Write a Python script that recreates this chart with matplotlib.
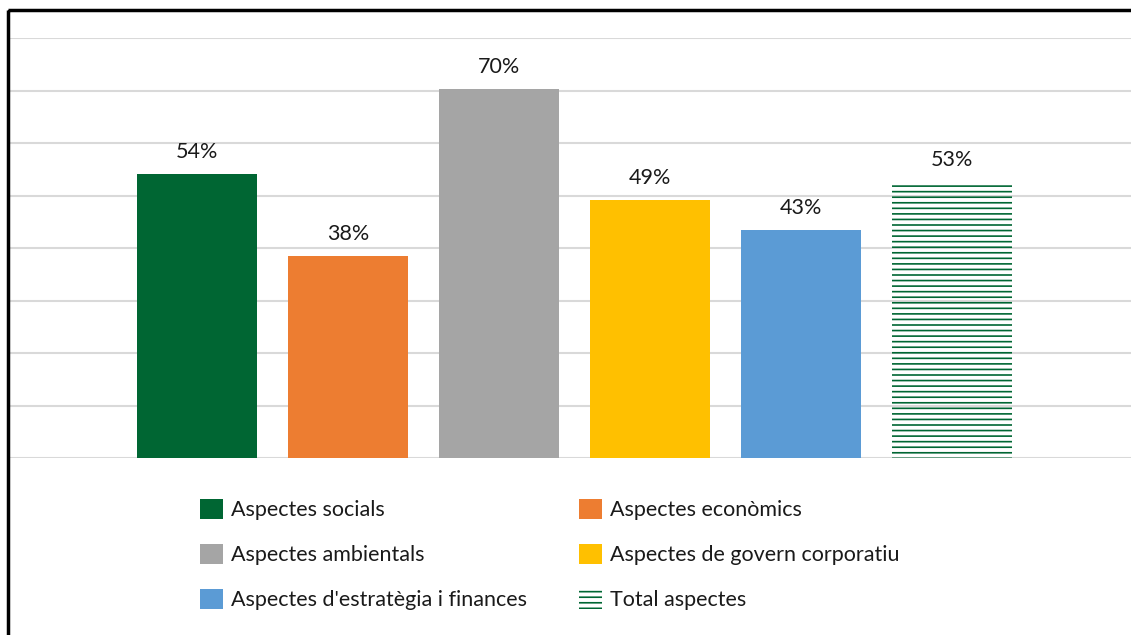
import matplotlib
matplotlib.use("Agg")
import matplotlib.pyplot as plt
from matplotlib.patches import Rectangle

categories = ["Aspectes socials", "Aspectes econòmics", "Aspectes ambientals",
              "Aspectes de govern corporatiu", "Aspectes d'estratègia i finances",
              "Total aspectes"]
values = [54.1, 38.5, 70.3, 49.1, 43.4, 52.6]
labels = ["54%", "38%", "70%", "49%", "43%", "53%"]
colors = ["#006633", "#ED7D31", "#A5A5A5", "#FFC000", "#5B9BD5", "none"]
hatches = [None, None, None, None, None, "---"]

plt.rcParams['font.family'] = ['Lato', 'DejaVu Sans']
plt.rcParams['hatch.linewidth'] = 1.2

FS = 15.5
W, H = 1131, 635
fig = plt.figure(figsize=(W / 100, H / 100), dpi=100)
ax = fig.add_axes([9 / W, 1 - 458 / H, (W - 9) / W, (458 - 38) / H])

bars = []
for i, (v, c, h) in enumerate(zip(values, colors, hatches)):
    if h:
        b = ax.bar(i, v, width=0.795, facecolor="none", edgecolor="#006633",
                   linewidth=0, hatch=h, label=categories[i], zorder=3)
    else:
        b = ax.bar(i, v, width=0.795, color=c, linewidth=0, label=categories[i], zorder=3)
    bars.append(b)
    ax.annotate(labels[i], (i, v), xytext=(0, 11.5), textcoords="offset points",
                ha="center", va="baseline", fontsize=FS, color="#1a1a1a")

ax.set_xlim(-(197 - 9) / 151, (W - 197) / 151)
ax.set_ylim(0, 80)
ax.set_yticks(range(0, 81, 10))
ax.yaxis.grid(True, color="#D9D9D9", linewidth=1.5, zorder=0)
ax.set_axisbelow(True)
ax.tick_params(left=False, bottom=False, labelleft=False, labelbottom=False)
for s in ax.spines.values():
    s.set_visible(False)

common = dict(loc="upper left", frameon=False, fontsize=FS, handlelength=1.05,
              handleheight=1.05, handletextpad=0.4, labelspacing=1.1,
              borderpad=0, borderaxespad=0, labelcolor="#1a1a1a")
for col, xpx in ((0, 200), (1, 579)):
    idx = [col, col + 2, col + 4]
    fig.legend([bars[i] for i in idx], [categories[i] for i in idx],
               bbox_to_anchor=(xpx / W, 1 - 499 / H), **common)

fig.patches.append(Rectangle((8 / W, 1 - 10 / H), 2, -2, transform=fig.transFigure,
                             fill=False, edgecolor="black", linewidth=2.5, clip_on=False))

fig.savefig("out.png", dpi=100)
